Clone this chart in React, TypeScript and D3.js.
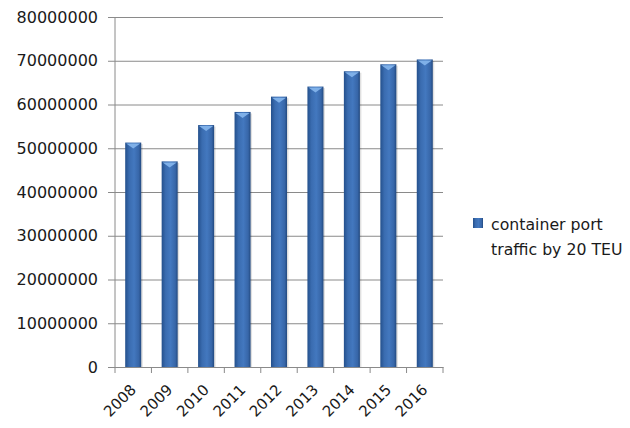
import React, { useEffect, useRef } from 'react'
import * as d3 from 'd3'

// Container port traffic (TEU)
const years = ['2008', '2009', '2010', '2011', '2012', '2013', '2014', '2015', '2016']
const traffic = [51300000, 47000000, 55300000, 58300000, 61800000, 64100000, 67600000, 69200000, 70300000]
const yTicks = [0, 10000000, 20000000, 30000000, 40000000, 50000000, 60000000, 70000000, 80000000]
const legendLines = ['container port', 'traffic by 20 TEU']

const W = 630
const H = 428
const margin = { top: 17, right: 187, bottom: 61, left: 115 }

const font = '"DejaVu Sans", sans-serif'

const App = () => {
  const ref = useRef<SVGSVGElement>(null)

  useEffect(() => {
    document.body.style.margin = '0'
    const svg = d3.select(ref.current)
    svg.selectAll('*').remove()

    const innerW = W - margin.left - margin.right
    const innerH = H - margin.top - margin.bottom

    // Gradient for the bevelled bars
    const defs = svg.append('defs')
    const grad = defs
      .append('linearGradient')
      .attr('id', 'barGrad')
      .attr('x1', '0%')
      .attr('x2', '100%')
    grad.append('stop').attr('offset', '0%').attr('stop-color', '#24508c')
    grad.append('stop').attr('offset', '25%').attr('stop-color', '#3a6cb0')
    grad.append('stop').attr('offset', '55%').attr('stop-color', '#4378bf')
    grad.append('stop').attr('offset', '85%').attr('stop-color', '#3766a8')
    grad.append('stop').attr('offset', '100%').attr('stop-color', '#22497f')

    const g = svg.append('g').attr('transform', `translate(${margin.left},${margin.top})`)

    const x = d3.scaleBand().domain(years).range([0, innerW]).paddingInner(0.56).paddingOuter(0.28)
    const y = d3.scaleLinear().domain([0, 80000000]).range([innerH, 0])

    // Gridlines with outside ticks
    g.append('g')
      .call(
        d3
          .axisLeft(y)
          .tickValues(yTicks)
          .tickSize(-innerW)
          .tickSizeOuter(0)
          .tickFormat(d3.format('d'))
      )
      .call(a => a.select('.domain').remove())
      .call(a =>
        a
          .selectAll('line')
          .attr('stroke', '#8a8a8a')
          .attr('x1', -7)
      )
      .call(a =>
        a
          .selectAll('text')
          .attr('x', -17)
          .attr('fill', '#1a1a1a')
          .style('font-family', font)
          .style('font-size', '16px')
      )

    // Y axis line
    g.append('line')
      .attr('x1', 0)
      .attr('x2', 0)
      .attr('y1', 0)
      .attr('y2', innerH)
      .attr('stroke', '#8a8a8a')

    // Bars
    const bars = g
      .selectAll('.bar')
      .data(traffic)
      .enter()
      .append('g')
      .attr('class', 'bar')

    bars
      .append('rect')
      .attr('x', (d, i) => x(years[i])! + 1.5)
      .attr('y', d => y(d) + 1.5)
      .attr('width', x.bandwidth())
      .attr('height', d => innerH - y(d) - 1.5)
      .attr('fill', '#000')
      .attr('opacity', 0.12)

    bars
      .append('rect')
      .attr('x', (d, i) => x(years[i])!)
      .attr('y', d => y(d))
      .attr('width', x.bandwidth())
      .attr('height', d => innerH - y(d))
      .attr('fill', 'url(#barGrad)')

    // Light cap at the top of each bar
    bars
      .append('path')
      .attr('d', (d, i) => {
        const x0 = x(years[i])!
        const bw = x.bandwidth()
        const t = y(d)
        return `M${x0 + 1},${t + 1} L${x0 + bw - 1},${t + 1} L${x0 + bw / 2},${t + 6} Z`
      })
      .attr('fill', '#7fb0e8')

    // X axis
    const xAxis = g
      .append('g')
      .attr('transform', `translate(0,${innerH})`)
      .call(d3.axisBottom(x).tickSize(0).tickSizeOuter(0))
    xAxis.select('.domain').attr('stroke', '#8a8a8a')
    xAxis
      .selectAll('text')
      .style('font-family', font)
      .style('font-size', '15px')
      .attr('fill', '#1a1a1a')
      .style('text-anchor', 'end')
      .attr('dy', '0.35em')
      .attr('transform', 'translate(-2,18) rotate(-45)')

    // Category boundary ticks
    const step = x.step()
    g.append('g')
      .selectAll('line')
      .data(d3.range(years.length + 1))
      .enter()
      .append('line')
      .attr('x1', i => i * step)
      .attr('x2', i => i * step)
      .attr('y1', innerH)
      .attr('y2', innerH + 6)
      .attr('stroke', '#8a8a8a')

    // Legend
    const legend = svg.append('g').attr('transform', 'translate(473,218)')
    legend
      .append('rect')
      .attr('width', 10)
      .attr('height', 10)
      .attr('fill', 'url(#barGrad)')
    legend
      .selectAll('text')
      .data(legendLines)
      .enter()
      .append('text')
      .attr('transform', (d, i) => `translate(18,${12 + i * 25}) scale(1.05,1)`)
      .attr('fill', '#1a1a1a')
      .style('font-family', font)
      .style('font-size', '15px')
      .text(d => d)
  }, [])

  return <svg ref={ref} width={W} height={H} style={{ display: 'block', background: '#fff' }} />
}

export default App
